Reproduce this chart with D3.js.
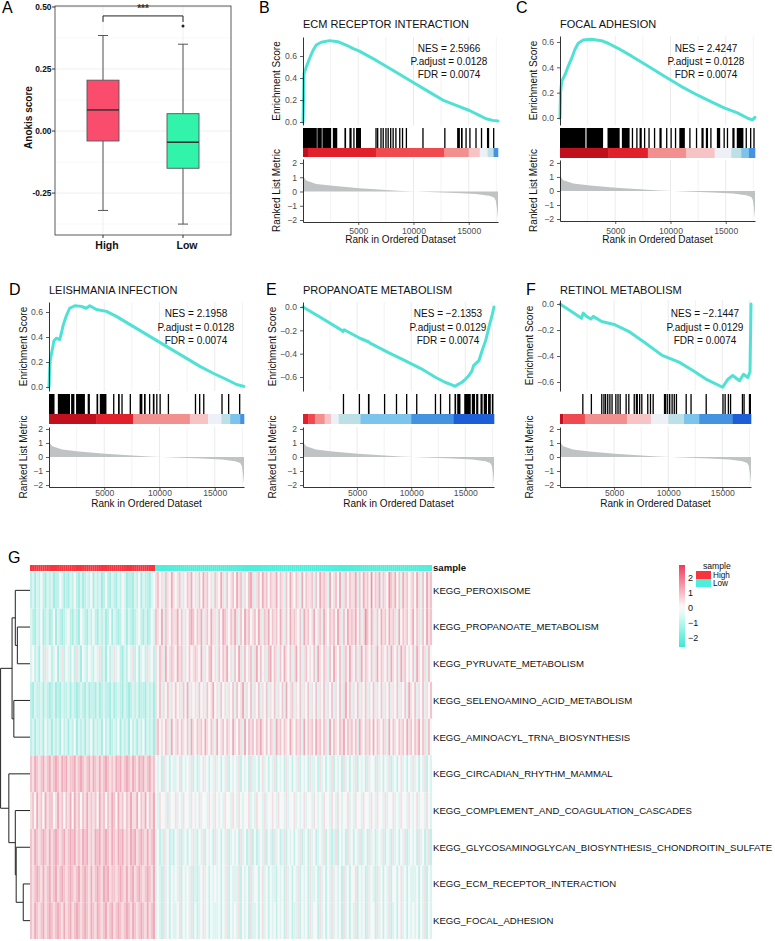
<!DOCTYPE html>
<html><head><meta charset="utf-8">
<script src="https://cdn.jsdelivr.net/npm/d3@7"></script>
<style>
body{margin:0;background:#fff}
svg{display:block}
text{font-family:"Liberation Sans",Arial,Helvetica,sans-serif}
</style>
</head><body>
<svg id="c" width="775" height="941"></svg>
<script>
// ================= DATA =================
// Panel A (box plot)
const groupsA = ["High", "Low"];
const q1A = [-0.04, -0.15];
const medA = [0.085, -0.045];
const q3A = [0.205, 0.07];
const whiskLoA = [-0.32, -0.375];
const whiskHiA = [0.385, 0.35];
const outliersA = [["Low", 0.423]];
const ticksA = [-0.25, 0, 0.25, 0.5];
const tickLabelsA = ["-0.25", "0.00", "0.25", "0.50"];
const minorTicksA = [-0.375, -0.125, 0.125, 0.375];
const fillA = ["#FA4D6E", "#31F4AA"];

// GSEA shared
const N = 17650;
const rankedMetric = [[0,1.15],[60,1.0],[300,0.77],[1200,0.53],[2700,0.4],[5100,0.23],[7200,0.13],[9000,0.04],[10200,0.0],[12000,-0.05],[13850,-0.1],[15650,-0.18],[16850,-0.3],[17300,-0.42],[17450,-0.63],[17560,-1.2],[17650,-1.9]];
const gridRanks = [2500,5000,7500,10000,12500,15000,17500];
const xTicks = [5000,10000,15000];
const barPalette = ["#C0101E","#E0202A","#EE4A50","#F29090","#F6C4C4","#EEF0F8","#BCE0E6","#7CC4EC","#4592E0","#1D5ED6"];

const esB = [[0,0],[30,0.12],[60,0.3],[90,0.44],[300,0.5],[600,0.58],[900,0.65],[1200,0.7],[1650,0.725],[2400,0.74],[3150,0.73],[3900,0.7],[4500,0.67],[5100,0.645],[6630,0.56],[8130,0.47],[9640,0.38],[11140,0.29],[12650,0.2],[14160,0.14],[15060,0.105],[15960,0.06],[16570,0.03],[17170,0.015],[17650,0.01]];
const esC = [[0,0],[50,0.2],[150,0.29],[450,0.34],[750,0.41],[1050,0.47],[1350,0.54],[1650,0.59],[2100,0.615],[2850,0.622],[3750,0.61],[4350,0.59],[5250,0.55],[6450,0.49],[7950,0.41],[9450,0.33],[10960,0.25],[12460,0.18],[13660,0.13],[14860,0.08],[16060,0.04],[16960,0.0],[17410,-0.015],[17650,0.005]];
const esD = [[0,0],[40,0.1],[120,0.22],[300,0.3],[450,0.37],[660,0.39],[970,0.38],[1120,0.43],[1270,0.49],[1570,0.57],[1870,0.63],[2330,0.65],[2930,0.645],[3380,0.63],[3690,0.65],[4290,0.62],[5200,0.605],[6100,0.565],[7610,0.485],[9120,0.405],[10630,0.325],[12150,0.245],[13660,0.165],[14860,0.11],[16070,0.06],[16980,0.02],[17650,0.005]];
const esE = [[0,0],[1560,-0.086],[3590,-0.2],[3700,-0.21],[3800,-0.195],[5310,-0.27],[6090,-0.3],[6200,-0.31],[7810,-0.386],[9375,-0.457],[10940,-0.53],[12190,-0.6],[13125,-0.645],[13700,-0.665],[14060,-0.68],[14300,-0.665],[14690,-0.645],[15000,-0.62],[15310,-0.59],[15600,-0.55],[15780,-0.5],[16250,-0.46],[16560,-0.37],[16875,-0.29],[17190,-0.17],[17500,-0.06],[17650,0.0]];
const esF = [[0,0],[1060,-0.057],[1990,-0.11],[2140,-0.07],[2450,-0.095],[2860,-0.115],[3070,-0.095],[3850,-0.135],[5090,-0.16],[6340,-0.21],[7890,-0.3],[9440,-0.395],[11000,-0.447],[12240,-0.51],[13480,-0.577],[15030,-0.64],[15500,-0.58],[15960,-0.55],[16590,-0.59],[16960,-0.54],[17360,-0.565],[17560,-0.52],[17650,0.0]];

// hit blocks [startRank, endRank]
const hitsB = [[0,1250],[1300,1700],[1760,2550],[2700,3100],[3750,3900],[4200,4400],[4550,4650],[4800,5250],[6550,6650],[6700,6800],[7000,7050],[7200,7250],[7450,7500],[7650,7700],[7880,7930],[8100,8200],[8350,8400],[8700,8750],[8950,9000],[9300,9350],[10800,10850],[12780,12830],[13950,14200],[14300,14450],[14700,14750],[15050,15100],[15600,15650],[16100,16150],[16650,16850],[17200,17300]];
const hitsC = [[0,2300],[2400,3900],[4300,5400],[5600,6300],[6500,6600],[6900,7000],[7200,7400],[7600,7700],[8000,8100],[8500,8600],[9000,9200],[9600,9700],[10000,10100],[10400,10500],[10800,11300],[11700,11800],[12300,12400],[12800,13000],[13200,13400],[13600,13700],[14200,14500],[14800,14900],[15100,15200],[15600,15800],[16000,16600],[16800,16900],[17200,17300],[17500,17600]];
const hitsD = [[0,500],[800,1900],[2000,2300],[2450,3250],[3500,3700],[4300,4450],[4600,5200],[5800,5850],[6250,6400],[6550,6600],[7300,7350],[8200,8450],[8600,8750],[9050,9100],[9400,9550],[9700,9750],[10000,10050],[10750,10800],[13200,13250],[13580,13630],[13950,14000],[15600,15650],[16200,16250],[17200,17250]];
const hitsE = [[3680,3730],[5150,5200],[6000,6150],[7480,7530],[8580,8630],[9520,9570],[10450,10500],[12180,12230],[12650,12700],[13500,13560],[14000,14150],[14250,14550],[14900,15500],[15600,15900],[16000,16200],[16400,16600],[16700,17000],[17100,17350],[17450,17600]];
const hitsF = [[2050,2100],[2840,2890],[3800,3850],[4000,4050],[4150,4200],[4350,4400],[4550,4600],[4750,4800],[5100,5150],[5300,5350],[5500,5550],[6050,6150],[6300,6400],[6800,6900],[7000,7200],[7300,7400],[7500,7550],[8050,8100],[8300,8400],[8550,8650],[9600,9800],[9850,9950],[10050,10200],[10300,10400],[10500,10550],[10700,10800],[11600,11650],[12050,12100],[13450,13500],[15000,15100],[15200,15300],[15500,15600],[15700,15800],[16800,16850],[16950,17000],[17450,17650]];

// colour bar segments [startRank, paletteIndex]
const barB = [[0,0],[450,1],[6600,2],[12800,3],[15000,4],[16000,5],[16700,6],[17250,8]];
const barC = [[0,0],[4350,1],[7950,3],[11400,4],[14000,5],[15500,6],[16400,7],[17100,8]];
const barD = [[0,0],[4300,1],[7600,3],[12750,4],[14400,5],[15600,6],[16400,7],[17300,8]];
const barE = [[0,1],[470,2],[1100,3],[2000,4],[2600,5],[3300,6],[5300,7],[10000,8],[13900,9]];
const barF = [[0,0],[300,2],[2300,3],[6180,4],[8400,5],[10000,6],[11460,7],[12860,8],[15960,9]];

const titles = ["ECM RECEPTOR INTERACTION","FOCAL ADHESION","LEISHMANIA INFECTION","PROPANOATE METABOLISM","RETINOL METABOLISM"];
const nesVals = ["2.5966","2.4247","2.1958","\u22122.1353","\u22122.1447"];
const padjVals = ["0.0128","0.0128","0.0128","0.0129","0.0129"];
const fdrVals = ["0.0074","0.0074","0.0074","0.0074","0.0074"];

// Heatmap (digit code 0..8, 4 = 0; each step = 0.42 z-score units)
const heatRows = ["KEGG_PEROXISOME","KEGG_PROPANOATE_METABOLISM","KEGG_PYRUVATE_METABOLISM","KEGG_SELENOAMINO_ACID_METABOLISM","KEGG_AMINOACYL_TRNA_BIOSYNTHESIS","KEGG_CIRCADIAN_RHYTHM_MAMMAL","KEGG_COMPLEMENT_AND_COAGULATION_CASCADES","KEGG_GLYCOSAMINOGLYCAN_BIOSYNTHESIS_CHONDROITIN_SULFATE","KEGG_ECM_RECEPTOR_INTERACTION","KEGG_FOCAL_ADHESION"];
const heatHigh = [
"2313242132 3122431213 2421312324 1323124213 2132431221 3241322134",
"3213241231 2413212342 1321432132 4213231241 3212431321 2342131243",
"3423142534 2341352432 4253143243 2435231423 5342132435 2413425342",
"2132231321 2312132231 3212321312 2131232213 1232132123 2312213231",
"2313231423 1323142313 2413231324 1323142312 3241323142 3132413231",
"6576567567 5676576756 6756765675 7657567656 5767567657 6576756756",
"5647564756 6457564657 4756465756 5647564657 6475646575 5746574657",
"6576567657 5676567567 6756576756 5767567657 6576756576 7567657567",
"6567657567 5675676567 6567567657 5676576756 6567657567 5676567657",
"6576567567 6567657567 5676567657 6576567567 5676567657 6567657567"
];
const heatLow = [
"5645365475 4563546574 5364756453 6547536456 4756354675 3564756465 5746536475 4653746556 3647565374 5647356465 5736475648 4657365486 5746375645 6475364756",
"6547365465 5746354676 4657356475 5364765465 7536475645 6475365746 5647536475 6546375645 7456375465 6475364756 5746358647 5364756475 6537465645 7465364756",
"5465374565 4756354645 6547354674 5364657453 6475364563 5746453674 6536475463 5746356454 6375465364 7546356475 4635746546 3574654637 5463756454 6375465364",
"5463546354 6453647354 5364536457 4536453546 3645735463 5463546354 6354637456 3546354635 4635463546 3546357463 5463546354 6354635463 5463546375 4635463546",
"5645465374 5646546375 4656475465 3745646547 5465374656 4657546465 3756465475 4656374656 4756465374 6546574656 4637546564 7465465374 6546564756 4657465364",
"4342534243 3452434352 4234534243 5342435243 4352434253 3424534243 5243425342 4352434253 3425342435 2434253424 3524342534 4253424352 3424534243 5342435243",
"4354435344 5343544354 3453443543 5434354435 4354344534 3544353445 4354435344 5343453443 5434354435 4354344534 3544354435 4354435344 5343544354 3453443543",
"3423534232 4352342435 3243524342 5342435234 3425342352 4234352432 5342352434 2435234253 4234352432 3524342534 2435234253 4234352432 5342435234 3425342352",
"3432534243 4352434352 3234534243 4342435243 3352434253 4424534243 3243425342 4352434253 3425342435 3434253424 4524342534 3253424352 4424534243 3342435243",
"3432534243 3452434352 4234534243 3342435243 4352434253 3424534243 4243425342 3352434253 4425342435 3434253424 3524342534 4253424352 3424534243 4342435243"
];
// dendrogram merges (leaf = row index), relative merge heights
const dendro = [
  {id:"n23",  kids:[1,2], h:0.43},
  {id:"nA",   kids:[0,"n23"], h:0.50},
  {id:"nB",   kids:[3,4], h:0.55},
  {id:"nTop", kids:["nA","nB"], h:0.61},
  {id:"n910", kids:[8,9], h:0.23},
  {id:"n8",   kids:[7,"n910"], h:0.47},
  {id:"n7",   kids:[6,"n8"], h:0.50},
  {id:"nBot", kids:[5,"n7"], h:0.72},
  {id:"root", kids:["nTop","nBot"], h:1.0}
];
const legendTicks = [-2,-1,0,1,2];
const sampleGroups = ["High","Low"];
const sampleColors = ["#F8343F","#4DEEDB"];

// ================= DRAW =================
const svg = d3.select("#c");
const minus = s => String(s).replace("-", "\u2212");

function letter(t, x, y){
  svg.append("text").attr("x",x).attr("y",y).attr("font-size",16).attr("fill","#000").text(t);
}

// ---- Panel A ----
(function(){
  const g = svg.append("g");
  const xA = d3.scalePoint().domain(groupsA).range([107,187]);
  const yA = d3.scaleLinear().domain([-0.419,0.504]).range([235,6]);
  const L=55, R=231, T=6, B=235;
  g.selectAll(".mn").data(minorTicksA).join("line").attr("x1",L).attr("x2",R)
    .attr("y1",d=>yA(d)).attr("y2",d=>yA(d)).attr("stroke","#F4F4F4").attr("stroke-width",0.6);
  g.selectAll(".mj").data(ticksA).join("line").attr("x1",L).attr("x2",R)
    .attr("y1",d=>yA(d)).attr("y2",d=>yA(d)).attr("stroke","#EBEBEB").attr("stroke-width",0.8);
  g.selectAll(".vg").data(groupsA).join("line").attr("y1",T).attr("y2",B)
    .attr("x1",d=>xA(d)-4).attr("x2",d=>xA(d)-4).attr("stroke","#EBEBEB").attr("stroke-width",0.8);
  const bw = 32, cap = 10;
  groupsA.forEach((k,i)=>{
    const cx = xA(k)-4;
    g.append("line").attr("x1",cx).attr("x2",cx).attr("y1",yA(whiskHiA[i])).attr("y2",yA(q3A[i])).attr("stroke","#555").attr("stroke-width",1);
    g.append("line").attr("x1",cx).attr("x2",cx).attr("y1",yA(q1A[i])).attr("y2",yA(whiskLoA[i])).attr("stroke","#555").attr("stroke-width",1);
    [whiskHiA[i], whiskLoA[i]].forEach(v=> g.append("line").attr("x1",cx-cap/2).attr("x2",cx+cap/2).attr("y1",yA(v)).attr("y2",yA(v)).attr("stroke","#555").attr("stroke-width",1));
    g.append("rect").attr("x",cx-bw/2).attr("width",bw).attr("y",yA(q3A[i])).attr("height",yA(q1A[i])-yA(q3A[i]))
      .attr("fill",fillA[i]).attr("stroke","#555").attr("stroke-width",0.9);
    g.append("line").attr("x1",cx-bw/2).attr("x2",cx+bw/2).attr("y1",yA(medA[i])).attr("y2",yA(medA[i])).attr("stroke","#333").attr("stroke-width",1.5);
  });
  outliersA.forEach(o=> g.append("circle").attr("cx",xA(o[0])-4).attr("cy",yA(o[1])).attr("r",1.5).attr("fill","#222"));
  g.append("rect").attr("x",L).attr("y",T).attr("width",R-L).attr("height",B-T).attr("fill","none").attr("stroke","#333").attr("stroke-width",0.8);
  // significance bracket
  const by = yA(0.464), x1 = xA("High")-4, x2 = xA("Low")-4;
  g.append("path").attr("d",`M${x1},${by+6}V${by}H${x2}V${by+6}`).attr("fill","none").attr("stroke","#222").attr("stroke-width",1);
  g.append("text").attr("x",(x1+x2)/2).attr("y",by-4).attr("text-anchor","middle").attr("font-size",10).attr("font-weight","bold").attr("fill","#333").text("***");
  // axes
  ticksA.forEach((t,i)=>{
    g.append("line").attr("x1",L-3).attr("x2",L).attr("y1",yA(t)).attr("y2",yA(t)).attr("stroke","#333");
    g.append("text").attr("x",L-3.5).attr("y",yA(t)+3).attr("text-anchor","end").attr("font-size",8.4).attr("font-weight","bold").attr("fill","#111").text(tickLabelsA[i]);
  });
  groupsA.forEach(k=>{
    g.append("line").attr("x1",xA(k)-4).attr("x2",xA(k)-4).attr("y1",B).attr("y2",B+3).attr("stroke","#333");
    g.append("text").attr("x",xA(k)).attr("y",249).attr("text-anchor","middle").attr("font-size",10.5).attr("font-weight","bold").attr("fill","#111").text(k);
  });
  g.append("text").attr("transform",`translate(32,${(T+B)/2-3}) rotate(-90)`).attr("text-anchor","middle").attr("font-size",10).attr("font-weight","bold").attr("fill","#111").text("Anokis score");
  letter("A",2,13);
})();

// ---- GSEA panels ----
const gseaCfg = [
 {letter:"B", lx:259, ly:13, x0:303, x1:498, titleY:28, esY:[37,125], esDom:[-0.027,0.773], esTicks:[0,0.2,0.4,0.6], hitsY:[128,148], barY:[148,157], rkY:[159,222], rkDom:[-2.14,2.28], tickY:233.5, xTitleY:243, ytX:-23, annX:449, annY:[51.5,64.5,77.5], es:esB, hits:hitsB, bar:barB},
 {letter:"C", lx:516, ly:13, x0:560, x1:755, titleY:28, esY:[36,125], esDom:[-0.055,0.647], esTicks:[0,0.2,0.4,0.6], hitsY:[128,148], barY:[148,158], rkY:[160,221], rkDom:[-2.14,2.21], tickY:233.5, xTitleY:243, ytX:-23, annX:706, annY:[51.5,64.5,77.5], es:esC, hits:hitsC, bar:barC},
 {letter:"D", lx:9, ly:295, x0:49, x1:244, titleY:294, esY:[302,391], esDom:[-0.032,0.68], esTicks:[0,0.2,0.4,0.6], hitsY:[394,414], barY:[414,424], rkY:[427,487], rkDom:[-2.14,2.14], tickY:496, xTitleY:507, ytX:-22, annX:196, annY:[316.5,330.5,343.5], es:esD, hits:hitsD, bar:barD},
 {letter:"E", lx:266, ly:295, x0:303, x1:494, titleY:294, esY:[302,391], esDom:[-0.72,0.043], esTicks:[-0.6,-0.4,-0.2,0], hitsY:[394,414], barY:[414,424], rkY:[427,487], rkDom:[-2.14,2.14], tickY:496, xTitleY:507, ytX:-27, annX:448, annY:[316.5,330.5,343.5], es:esE, hits:hitsE, bar:barE},
 {letter:"F", lx:526, ly:295, x0:560, x1:751, titleY:294, esY:[300,391], esDom:[-0.669,0.031], esTicks:[-0.6,-0.4,-0.2,0], hitsY:[394,414], barY:[414,424], rkY:[427,487], rkDom:[-2.14,2.14], tickY:496, xTitleY:507, ytX:-27, annX:705, annY:[316.5,330.5,343.5], es:esF, hits:hitsF, bar:barF}
];

function styleAxis(sel){
  sel.select(".domain").attr("stroke","#000").attr("stroke-width",0.8);
  sel.selectAll(".tick line").attr("stroke","#333").attr("stroke-width",0.8);
  sel.selectAll(".tick text").attr("fill","#4D4D4D").attr("font-size",8.6).attr("font-family",'"Liberation Sans",Arial,sans-serif');
}

gseaCfg.forEach((c,i)=>{
  const g = svg.append("g");
  const x = d3.scaleLinear().domain([0,N]).range([c.x0,c.x1]);
  const yE = d3.scaleLinear().domain(c.esDom).range([c.esY[1],c.esY[0]]);
  const yR = d3.scaleLinear().domain(c.rkDom).range([c.rkY[1],c.rkY[0]]);
  [[c.esY[0],c.esY[1]],[c.rkY[0],c.rkY[1]]].forEach(r=>{
    g.selectAll(null).data(gridRanks).join("line").attr("x1",d=>x(d)).attr("x2",d=>x(d)).attr("y1",r[0]).attr("y2",r[1])
      .attr("stroke",d=>d%5000===0?"#E6E6E6":"#EFEFEF").attr("stroke-width",0.8);
  });
  g.append("path").datum(rankedMetric).attr("fill","#BFC3C3")
    .attr("d",d3.area().x(d=>x(d[0])).y0(yR(0)).y1(d=>yR(d[1])));
  g.append("path").datum(c.es).attr("fill","none").attr("stroke","#4FE2D4").attr("stroke-width",3).attr("stroke-linejoin","round").attr("stroke-linecap","round")
    .attr("d",d3.line().x(d=>x(d[0])).y(d=>yE(d[1])));
  g.selectAll(null).data(c.hits).join("rect").attr("x",d=>x(d[0])).attr("width",d=>Math.max(1.3,x(d[1])-x(d[0])))
    .attr("y",c.hitsY[0]).attr("height",c.hitsY[1]-c.hitsY[0]).attr("fill","#000");
  g.selectAll(null).data(c.bar).join("rect")
    .attr("x",d=>x(d[0])).attr("width",(d,j)=>x(j<c.bar.length-1?c.bar[j+1][0]:N)-x(d[0])+0.3)
    .attr("y",c.barY[0]).attr("height",c.barY[1]-c.barY[0]).attr("fill",d=>barPalette[d[1]]);
  const aE = g.append("g").attr("transform",`translate(${c.x0},0)`)
    .call(d3.axisLeft(yE).tickValues(c.esTicks).tickSize(3).tickSizeOuter(0).tickFormat(d3.format(".1f")));
  styleAxis(aE);
  const aR = g.append("g").attr("transform",`translate(${c.x0},0)`)
    .call(d3.axisLeft(yR).tickValues([-2,-1,0,1,2]).tickSize(3).tickSizeOuter(0).tickFormat(d3.format("d")));
  styleAxis(aR);
  const aX = g.append("g").attr("transform",`translate(0,${c.rkY[1]})`)
    .call(d3.axisBottom(x).tickValues(xTicks).tickSize(3).tickSizeOuter(0).tickFormat(d3.format("d")));
  styleAxis(aX);
  aX.selectAll(".tick text").attr("dy",null).attr("y",c.tickY-c.rkY[1]);
  g.append("text").attr("x",c.x0).attr("y",c.titleY).attr("font-size",11).attr("fill","#111").text(titles[i]);
  g.append("text").attr("x",(c.x0+c.x1)/2).attr("y",c.xTitleY).attr("text-anchor","middle").attr("font-size",10).attr("fill","#111").text("Rank in Ordered Dataset");
  g.append("text").attr("transform",`translate(${c.x0+c.ytX},${(c.esY[0]+c.esY[1])/2}) rotate(-90)`).attr("text-anchor","middle").attr("font-size",10).attr("fill","#111").text("Enrichment Score");
  g.append("text").attr("transform",`translate(${c.x0+c.ytX},${(c.rkY[0]+c.rkY[1])/2}) rotate(-90)`).attr("text-anchor","middle").attr("font-size",10).attr("fill","#111").text("Ranked List Metric");
  const ann = ["NES = "+nesVals[i], "P.adjust = "+padjVals[i], "FDR = "+fdrVals[i]];
  ann.forEach((t,j)=> g.append("text").attr("x",c.annX).attr("y",c.annY[j]).attr("text-anchor","middle").attr("font-size",10).attr("fill","#111").text(t));
  letter(c.letter,c.lx,c.ly);
});

// ---- Heatmap G ----
(function(){
  const g = svg.append("g");
  const parse = s => s.replace(/ /g,"").split("").map(ch => (+ch - 4) * 0.42);
  const hi = heatHigh.map(parse), lo = heatLow.map(parse);
  const yRow = d3.scaleBand().domain(heatRows).range([572,939]);
  const color = d3.scaleLinear().domain([-2.6,0,2.87]).range(["#3DE8D2","#FFFFFF","#F03A5C"]);
  const grey = "#B8BDBD";
  heatRows.forEach((r,ri)=>{
    const xh = d3.scaleBand().domain(d3.range(hi[ri].length)).range([30,155]);
    const xl = d3.scaleBand().domain(d3.range(lo[ri].length)).range([155,432]);
    [[hi[ri],xh],[lo[ri],xl]].forEach(([vals,xs])=>{
      g.selectAll(null).data(vals).join("rect")
        .attr("x",(d,j)=>xs(j)).attr("width",xs.bandwidth()+0.05)
        .attr("y",yRow(r)).attr("height",yRow.bandwidth())
        .attr("fill",d=>d3.interpolateRgb(color(d),grey)(0.12));
    });
    g.append("text").attr("x",433).attr("y",yRow(r)+yRow.bandwidth()/2+3.4).attr("font-size",9.6).attr("fill","#111").text(r);
  });
  const nH = hi[0].length, nL = lo[0].length;
  const xh = d3.scaleBand().domain(d3.range(nH)).range([30,155]);
  const xl = d3.scaleBand().domain(d3.range(nL)).range([155,432]);
  g.selectAll(null).data(d3.range(nH)).join("rect").attr("x",j=>xh(j)).attr("width",xh.bandwidth()+0.1).attr("y",565).attr("height",6).attr("fill",sampleColors[0]);
  g.selectAll(null).data(d3.range(nL)).join("rect").attr("x",j=>xl(j)).attr("width",xl.bandwidth()+0.1).attr("y",565).attr("height",6).attr("fill",sampleColors[1]);
  g.append("text").attr("x",433).attr("y",571).attr("font-size",9.6).attr("font-weight","bold").attr("fill","#111").text("sample");
  const hx = d3.scaleLinear().domain([0,1]).range([30,0.6]);
  const pos = {};
  heatRows.forEach((r,ri)=>{ pos[ri] = {y: yRow(r)+yRow.bandwidth()/2, h:0}; });
  dendro.forEach(n=>{
    const ks = n.kids.map(k=>pos[k]);
    pos[n.id] = {y: d3.mean(ks,k=>k.y), h:n.h};
    ks.forEach(k=> g.append("line").attr("x1",hx(n.h)).attr("x2",hx(k.h)).attr("y1",k.y).attr("y2",k.y).attr("stroke","#222").attr("stroke-width",1));
    g.append("line").attr("x1",hx(n.h)).attr("x2",hx(n.h)).attr("y1",ks[0].y).attr("y2",ks[1].y).attr("stroke","#222").attr("stroke-width",1);
  });
  const yL = d3.scaleLinear().domain([-2.6,2.87]).range([647,565]);
  const defs = svg.append("defs");
  const grad = defs.append("linearGradient").attr("id","hg").attr("x1",0).attr("x2",0).attr("y1",1).attr("y2",0);
  d3.range(0,1.0001,0.1).forEach(t=>{
    const v = -2.6 + t*5.47;
    grad.append("stop").attr("offset",t).attr("stop-color",color(v));
  });
  g.append("rect").attr("x",679).attr("y",565).attr("width",6).attr("height",82).attr("fill","url(#hg)");
  legendTicks.forEach(t=> g.append("text").attr("x",688).attr("y",yL(t)+3.2).attr("font-size",9).attr("fill","#111").text(minus(t)));
  g.append("text").attr("x",703).attr("y",568.5).attr("font-size",8.6).attr("fill","#111").text("sample");
  sampleGroups.forEach((s,si)=>{
    g.append("rect").attr("x",696).attr("y",571+si*8).attr("width",15).attr("height",8).attr("fill",sampleColors[si]);
    g.append("text").attr("x",713).attr("y",577.8+si*8).attr("font-size",8.2).attr("fill","#111").text(s);
  });
  letter("G",8,563);
})();
</script>
</body></html>
